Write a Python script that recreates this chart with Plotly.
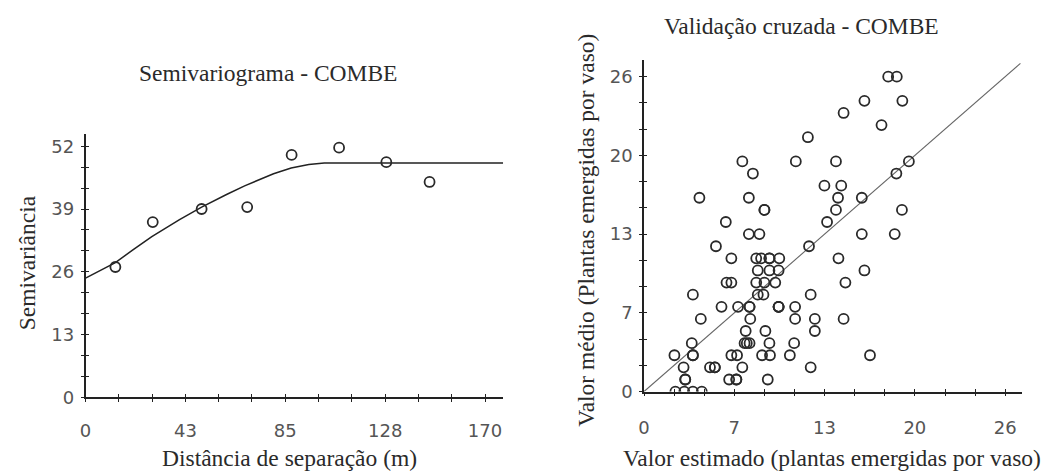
import plotly.graph_objects as go

# ---------------- Data: semivariogram (left) ----------------
lag_dist = [12.7, 28.6, 49.4, 68.8, 87.7, 107.9, 128.0, 146.4]
semivar = [27.0, 36.3, 39.0, 39.4, 50.2, 51.7, 48.7, 44.6]

model_dist = [0, 12.7, 20, 28.2, 40, 49.4, 60, 67.7, 80, 87.5, 95, 101.6, 177.7]
model_semivar = [24.7, 27.9, 30.5, 33.3, 36.8, 39.4, 42.0, 43.8, 46.3, 47.5, 48.2, 48.5, 48.5]

semi_xticks = [0, 14.17, 28.33, 42.5, 56.67, 70.83, 85, 99.17, 113.33, 127.5, 141.67, 155.83, 170]
semi_xlabels = ["0", "", "", "43", "", "", "85", "", "", "128", "", "", "170"]
semi_yticks = [0, 4.33, 8.67, 13, 17.33, 21.67, 26, 30.33, 34.67, 39, 43.33, 47.67, 52]
semi_ylabels = ["0", "", "", "13", "", "", "26", "", "", "39", "", "", "52"]

# ---------------- Data: cross validation (right) ----------------
estimated = [
    2.26, 2.9, 3.52, 4.16,
    2.97, 2.97, 6.13, 6.65, 6.65, 8.91,
    2.85, 4.75, 5.1, 5.1, 7.08, 12.0,
    2.19, 3.52, 3.52, 6.29, 6.7, 8.5, 9.07, 10.5, 16.27,
    3.44, 7.24, 7.4, 7.6, 9.03, 10.81,
    7.32, 8.74, 12.3,
    4.09, 7.65, 10.88, 12.3, 14.37,
    5.58, 6.77, 7.6, 7.6, 9.69, 9.69, 9.69, 10.88,
    3.52, 8.19, 8.6, 12.0,
    5.94, 6.29, 8.08, 8.67, 9.45, 14.5,
    8.19, 9.03, 9.69, 15.87,
    6.29, 8.08, 8.43, 9.03, 9.03, 9.74, 14.0,
    5.18, 11.88,
    7.55, 8.31, 15.68, 18.05,
    5.89, 13.18,
    8.67, 8.67, 13.82, 18.57,
    3.99, 7.55, 13.97, 15.68,
    12.99, 14.2,
    7.84, 18.17,
    7.08, 10.93, 13.82, 19.07,
    11.8, 17.1, 14.37, 15.87, 18.6, 17.58, 18.2,
]
observed = [
    0, 0, 0, 0,
    1, 1, 1, 1, 1, 1,
    2, 2, 2, 2, 2, 2,
    3, 3, 3, 3, 3, 3, 3, 3, 3,
    4, 4, 4, 4, 4, 4,
    5, 5, 5,
    6, 6, 6, 6, 6,
    7, 7, 7, 7, 7, 7, 7, 7,
    8, 8, 8, 8,
    9, 9, 9, 9, 9, 9,
    10, 10, 10, 10,
    11, 11, 11, 11, 11, 11, 11,
    12, 12,
    13, 13, 13, 13,
    14, 14,
    15, 15, 15, 15,
    16, 16, 16, 16,
    17, 17,
    18, 18,
    19, 19, 19, 19,
    21, 22, 23, 24, 24, 26, 26,
]
identity_line = [0, 27.1]

cv_ticks = [0, 2.17, 4.33, 6.5, 8.67, 10.83, 13, 15.17, 17.33, 19.5, 21.67, 23.83, 26]
cv_labels = ["0", "", "", "7", "", "", "13", "", "", "20", "", "", "26"]

# ---------------- Figure ----------------
W, H = 1041, 476
tick_font = dict(family="DejaVu Sans", size=18, color="#555555")
title_font = dict(family="Liberation Serif", size=23.5, color="#2a2a2a")
axis_col = "#222222"

fig = go.Figure()

fig.add_trace(go.Scatter(x=model_dist, y=model_semivar, mode="lines",
                         line=dict(color="#222222", width=1.5),
                         xaxis="x", yaxis="y", showlegend=False, hoverinfo="skip"))
fig.add_trace(go.Scatter(x=lag_dist, y=semivar, mode="markers",
                         marker=dict(symbol="circle-open", size=10, color="#2a2a2a",
                                     line=dict(width=1.8)),
                         xaxis="x", yaxis="y", showlegend=False))

fig.add_trace(go.Scatter(x=identity_line, y=identity_line, mode="lines",
                         line=dict(color="#666666", width=1.1),
                         xaxis="x2", yaxis="y2", showlegend=False, hoverinfo="skip"))
fig.add_trace(go.Scatter(x=estimated, y=observed, mode="markers",
                         marker=dict(symbol="circle-open", size=10, color="#2a2a2a",
                                     line=dict(width=1.8)),
                         xaxis="x2", yaxis="y2", showlegend=False))

# empty traces so the overlay (inner-tick) axes get drawn
fig.add_trace(go.Scatter(x=[], y=[], xaxis="x3", yaxis="y3", showlegend=False))
fig.add_trace(go.Scatter(x=[], y=[], xaxis="x4", yaxis="y4", showlegend=False))


def px_x(p):
    return p / W


def px_y(p):
    return 1 - p / H


common = dict(showgrid=False, zeroline=False, showline=True, linecolor=axis_col,
              linewidth=1.5, ticks="outside", ticklen=3, tickwidth=1.3,
              tickcolor=axis_col, tickfont=tick_font, tickmode="array")
inner = dict(showgrid=False, zeroline=False, showline=False, ticks="inside",
             ticklen=3, tickwidth=1.3, tickcolor=axis_col, showticklabels=False,
             tickmode="array")

L_x = [px_x(80), px_x(500)]
L_y = [px_y(406), px_y(137)]
R_x = [px_x(641.7), px_x(1021.7)]
R_y = [px_y(400), px_y(61.7)]

fig.update_layout(
    width=W, height=H,
    margin=dict(l=0, r=0, t=0, b=0),
    paper_bgcolor="white", plot_bgcolor="white",
    xaxis=dict(domain=L_x, range=[0, 177.7], anchor="y", ticklabelstandoff=13,
               tickvals=semi_xticks, ticktext=semi_xlabels, **common),
    yaxis=dict(domain=L_y, range=[0, 54.5], anchor="x", ticklabelstandoff=3,
               tickvals=semi_yticks, ticktext=semi_ylabels, **common),
    xaxis2=dict(domain=R_x, range=[0, 27.2], anchor="y2", ticklabelstandoff=16,
                tickvals=cv_ticks, ticktext=cv_labels, **common),
    yaxis2=dict(domain=R_y, range=[0, 27.34], anchor="x2", ticklabelstandoff=3,
                tickvals=cv_ticks, ticktext=cv_labels, **common),
    xaxis3=dict(overlaying="x", anchor="y3", range=[0, 177.7], tickvals=semi_xticks, **inner),
    yaxis3=dict(overlaying="y", anchor="x3", range=[0, 54.5], tickvals=semi_yticks, **inner),
    xaxis4=dict(overlaying="x2", anchor="y4", range=[0, 27.2], tickvals=cv_ticks, **inner),
    yaxis4=dict(overlaying="y2", anchor="x4", range=[0, 27.34], tickvals=cv_ticks, **inner),
)

annos = [
    dict(text="Semivariograma - COMBE", x=px_x(264), y=px_y(75)),
    dict(text="Validação cruzada - COMBE", x=px_x(800), y=px_y(27)),
    dict(text="Distância de separação (m)", x=px_x(285), y=px_y(468)),
    dict(text="Valor estimado (plantas emergidas por vaso)", x=px_x(831), y=px_y(468)),
    dict(text="Semivariância", x=px_x(21), y=px_y(268), textangle=-90),
    dict(text="Valor médio (Plantas emergidas por vaso)", x=px_x(583), y=px_y(235), textangle=-90),
]
for a in annos:
    fig.add_annotation(xref="paper", yref="paper", showarrow=False,
                       xanchor="center", yanchor="middle", font=title_font, **a)

fig.write_html("out.html")
